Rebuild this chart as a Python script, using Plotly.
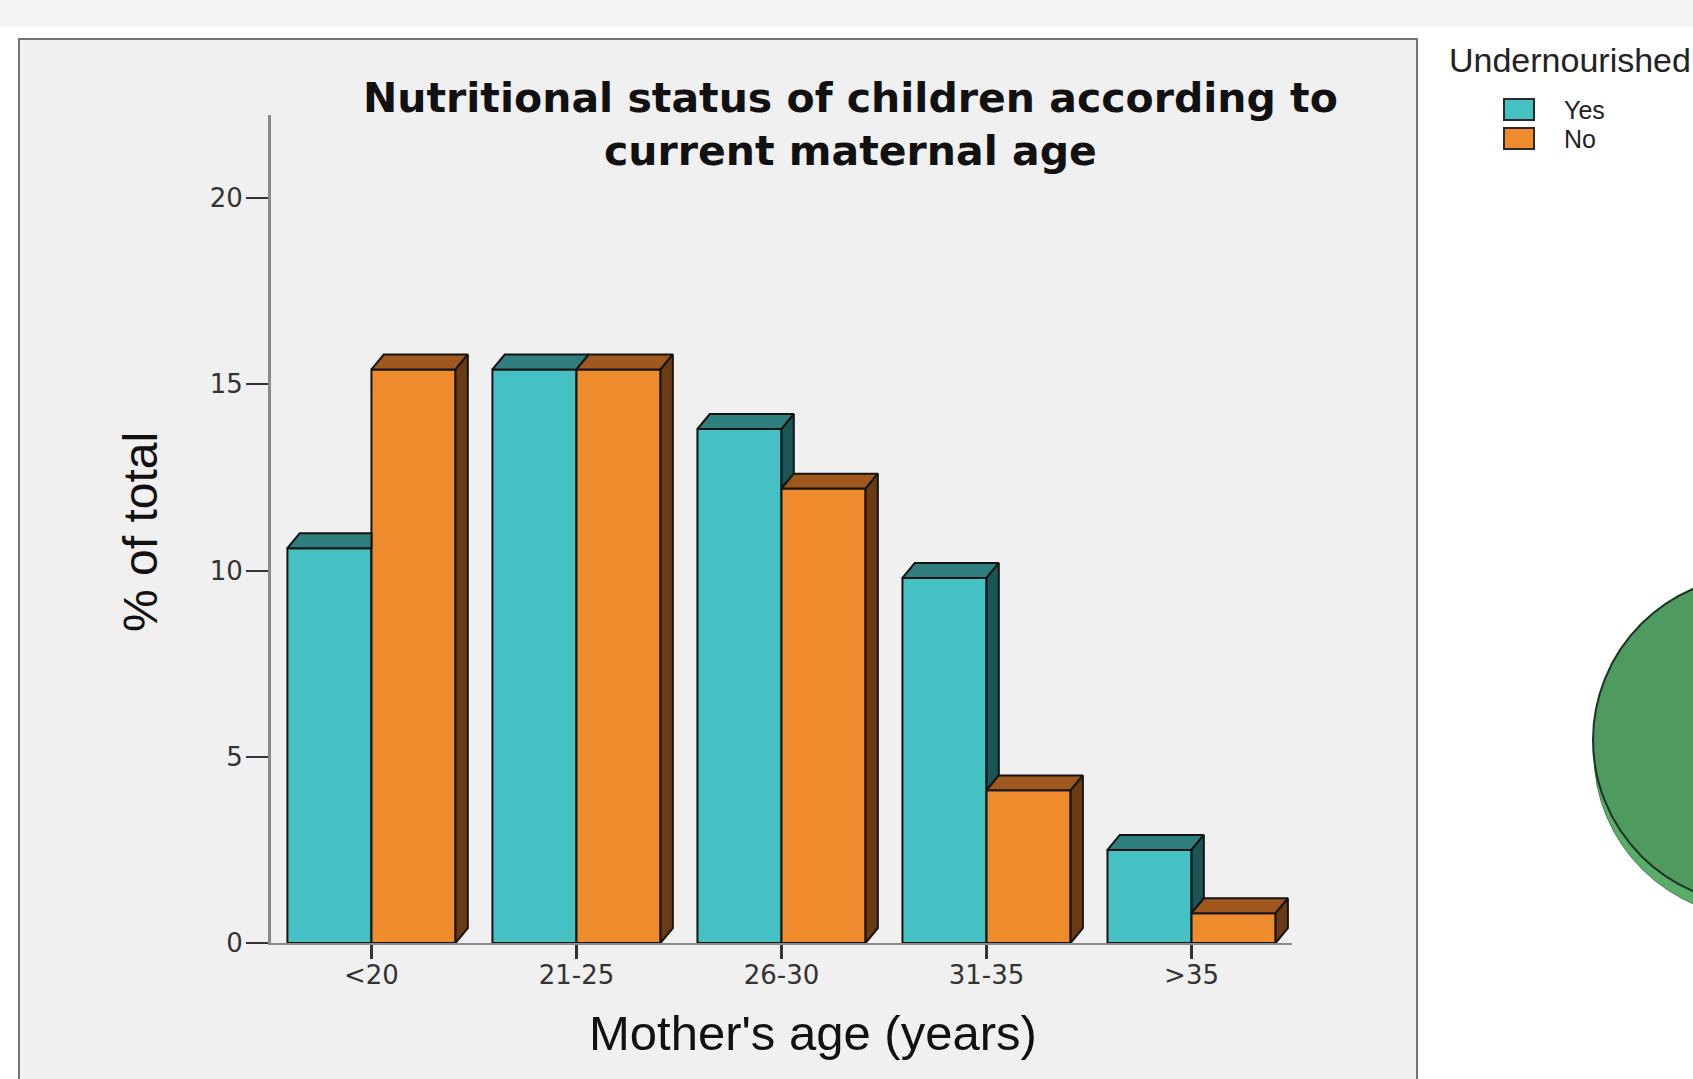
import plotly.graph_objects as go

# ---- data -------------------------------------------------------------
age_groups = ["<20", "21-25", "26-30", "31-35", ">35"]
undernourished_yes = [10.6, 15.4, 13.8, 9.8, 2.5]   # % of total
undernourished_no = [15.4, 15.4, 12.2, 4.1, 0.8]
y_ticks = [0, 5, 10, 15, 20]

# ---- geometry / style -------------------------------------------------
W, H = 1693, 1079
ML, MR, MT, MB = 271, 401, 115, 136
PW, PH = W - ML - MR, H - MT - MB
X_RANGE = [-0.49, 4.49]
Y_RANGE = [0, 22.23]

BAR_W = 0.41          # width of each bar in category units
DX = 0.06             # depth offset of the 3D faces (x units)
DY = 0.40             # depth offset of the 3D faces (y units)

TEAL, TEAL_TOP, TEAL_SIDE = "#46c1c3", "#2e7f7e", "#1b5556"
ORANGE, ORANGE_TOP, ORANGE_SIDE = "#ed8b2d", "#a0581f", "#6b3c14"
EDGE = "#141414"


def px_x(px):
    return (px - ML) / PW


def px_y(py):
    return (H - MB - py) / PH


def face(xs, ys, color):
    return go.Scatter(
        x=xs + [xs[0]], y=ys + [ys[0]], mode="lines", fill="toself",
        fillcolor=color, line=dict(color=EDGE, width=2),
        hoverinfo="skip", showlegend=False,
    )


fig = go.Figure()

idx = list(range(len(age_groups)))
fig.add_trace(go.Bar(
    x=idx, y=undernourished_yes, width=BAR_W, offset=-BAR_W,
    marker=dict(color=TEAL, line=dict(color=EDGE, width=2)),
    name="Yes", showlegend=False,
    customdata=age_groups, hovertemplate="%{customdata}: %{y}%<extra>Yes</extra>",
))
fig.add_trace(go.Bar(
    x=idx, y=undernourished_no, width=BAR_W, offset=0,
    marker=dict(color=ORANGE, line=dict(color=EDGE, width=2)),
    name="No", showlegend=False,
    customdata=age_groups, hovertemplate="%{customdata}: %{y}%<extra>No</extra>",
))

# 3D top and side faces, derived from the bar values
for i, (yv, nv) in enumerate(zip(undernourished_yes, undernourished_no)):
    xl, xr = i - BAR_W, i
    xl2, xr2 = i, i + BAR_W
    # top of the "Yes" bar, trimmed where the "No" bar stands in front of it
    if nv <= yv:
        fig.add_trace(face([xl, xr, xr + DX, xl + DX],
                           [yv, yv, yv + DY, yv + DY], TEAL_TOP))
    elif nv >= yv + DY:
        fig.add_trace(face([xl, xr, xr, xl + DX],
                           [yv, yv, yv + DY, yv + DY], TEAL_TOP))
    else:
        t0 = (nv - yv) / DY
        fig.add_trace(face([xl, xr, xr, xr + t0 * DX, xr + DX, xl + DX],
                           [yv, yv, nv, nv, yv + DY, yv + DY], TEAL_TOP))
    # side of the "Yes" bar, visible only above the "No" bar
    if yv > nv:
        fig.add_trace(face([xr, xr + DX, xr + DX, xr],
                           [nv, nv + DY, yv + DY, yv], TEAL_SIDE))
    # "No" bar top and side
    fig.add_trace(face([xl2, xr2, xr2 + DX, xl2 + DX],
                       [nv, nv, nv + DY, nv + DY], ORANGE_TOP))
    fig.add_trace(face([xr2, xr2 + DX, xr2 + DX, xr2],
                       [0, DY, nv + DY, nv], ORANGE_SIDE))

# ---- background decoration ------------------------------------------
shapes = [
    # faint strip across the top
    dict(type="rect", xref="paper", yref="paper", layer="below",
         x0=px_x(0), x1=px_x(W), y0=px_y(27), y1=px_y(0),
         fillcolor="#f6f4f2", line=dict(width=0)),
    # chart panel
    dict(type="rect", xref="paper", yref="paper", layer="below",
         x0=px_x(19), x1=px_x(1417), y0=px_y(1090), y1=px_y(39),
         fillcolor="#f0f0f0", line=dict(color="#747474", width=2)),
    # edge of the neighbouring pie chart
    dict(type="circle", xref="paper", yref="paper", layer="below",
         x0=px_x(1594), x1=px_x(1928), y0=px_y(918), y1=px_y(590),
         fillcolor="#5aad69", line=dict(color="#3f7f4d", width=1)),
    dict(type="circle", xref="paper", yref="paper", layer="below",
         x0=px_x(1593), x1=px_x(1927), y0=px_y(905), y1=px_y(575),
         fillcolor="#4f9a5e", line=dict(color="#1d3324", width=2)),
    # legend swatches
    dict(type="rect", xref="paper", yref="paper",
         x0=px_x(1504), x1=px_x(1534), y0=px_y(120), y1=px_y(99),
         fillcolor=TEAL, line=dict(color="#2a2a2a", width=2)),
    dict(type="rect", xref="paper", yref="paper",
         x0=px_x(1504), x1=px_x(1534), y0=px_y(149), y1=px_y(128),
         fillcolor=ORANGE, line=dict(color="#2a2a2a", width=2)),
]

annotations = [
    dict(text="Nutritional status of children according to<br>current maternal age",
         xref="paper", yref="paper", x=px_x(850), y=px_y(124),
         xanchor="center", yanchor="middle", showarrow=False,
         font=dict(family="DejaVu Sans", size=41, weight="bold", color="#111111")),
    dict(text="% of total", textangle=-90,
         xref="paper", yref="paper", x=px_x(140), y=px_y(532),
         xanchor="center", yanchor="middle", showarrow=False,
         font=dict(family="Liberation Sans, Arial", size=48, color="#111111")),
    dict(text="Mother's age (years)",
         xref="paper", yref="paper", x=px_x(813), y=px_y(1033),
         xanchor="center", yanchor="middle", showarrow=False,
         font=dict(family="Liberation Sans, Arial", size=49, color="#111111")),
    dict(text="Undernourished",
         xref="paper", yref="paper", x=px_x(1447), y=px_y(60),
         xanchor="left", yanchor="middle", showarrow=False,
         font=dict(family="Liberation Sans, Arial", size=34, color="#222222")),
    dict(text="Yes",
         xref="paper", yref="paper", x=px_x(1562), y=px_y(110),
         xanchor="left", yanchor="middle", showarrow=False,
         font=dict(family="Liberation Sans, Arial", size=25, color="#222222")),
    dict(text="No",
         xref="paper", yref="paper", x=px_x(1562), y=px_y(139),
         xanchor="left", yanchor="middle", showarrow=False,
         font=dict(family="Liberation Sans, Arial", size=25, color="#222222")),
]

fig.update_layout(
    width=W, height=H,
    margin=dict(l=ML, r=MR, t=MT, b=MB, pad=0),
    paper_bgcolor="white", plot_bgcolor="rgba(0,0,0,0)",
    barmode="overlay", showlegend=False,
    shapes=shapes, annotations=annotations,
    xaxis=dict(
        range=X_RANGE, tickmode="array", tickvals=idx, ticktext=age_groups,
        showgrid=False, zeroline=False,
        showline=True, linecolor="#8a8a8a", linewidth=2,
        ticks="outside", ticklen=14, tickwidth=3, tickcolor="#333333",
        tickfont=dict(family="DejaVu Sans", size=26, color="#333333"),
        ticklabelstandoff=-6,
        fixedrange=True,
    ),
    yaxis=dict(
        range=Y_RANGE, tickmode="array", tickvals=y_ticks,
        showgrid=False, zeroline=False,
        showline=True, linecolor="#8a8a8a", linewidth=3,
        ticks="outside", ticklen=22, tickwidth=2, tickcolor="#333333",
        tickfont=dict(family="DejaVu Sans", size=26, color="#333333"),
        ticklabelstandoff=-2,
        fixedrange=True,
    ),
)

fig.write_html("out.html")
